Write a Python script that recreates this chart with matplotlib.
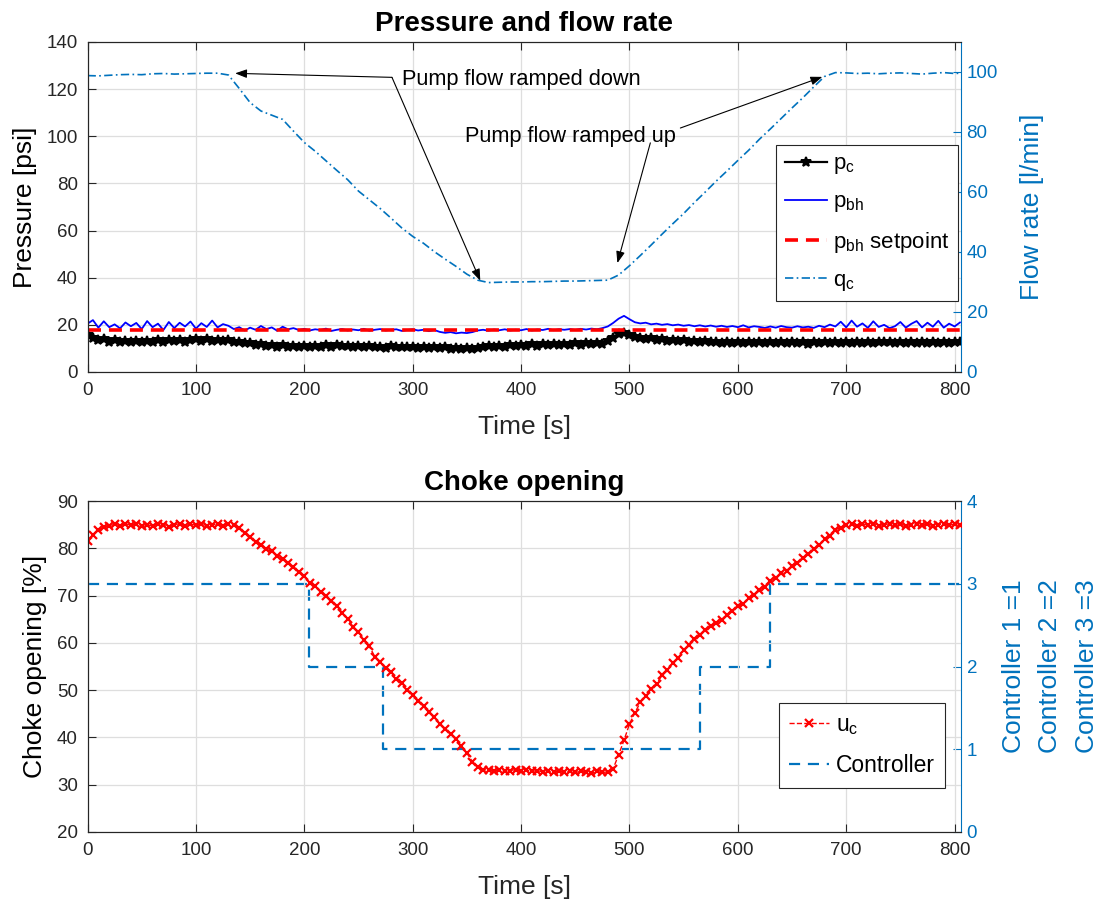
import numpy as np
import matplotlib
matplotlib.use('Agg')
import matplotlib.pyplot as plt

plt.rcParams['font.family'] = ['Liberation Sans', 'DejaVu Sans']
plt.rcParams['mathtext.fontset'] = 'custom'
plt.rcParams['mathtext.rm'] = 'Liberation Sans'
plt.rcParams['mathtext.it'] = 'Liberation Sans:italic'

# ---------------- data ----------------
time_s = np.arange(0, 806, 5)          # 5 s sampling grid, 0..805 s

p_c = [15.6, 14.4, 13.6, 13.9, 12.8, 13.4, 12.6, 13.3, 12.7, 13.1,
       12.5, 13.2, 12.8, 13.5, 12.9, 13.6, 13.1, 13.7, 12.9, 13.4,
       13.8, 13.2, 14.0, 13.3, 13.7, 13.0, 13.4, 12.5, 12.9, 12.1,
       12.3, 11.6, 11.9, 11.2, 11.5, 10.8, 11.3, 10.7, 11.1, 10.6,
       11.0, 10.5, 11.2, 10.7, 11.3, 10.8, 11.4, 10.9, 11.2, 10.6,
       11.0, 10.5, 10.9, 10.4, 10.8, 10.3, 10.9, 10.5, 10.8, 10.4,
       10.7, 10.2, 10.6, 10.1, 10.5, 10.0, 10.4, 9.8, 10.2, 9.7,
       10.0, 9.6, 10.1, 10.4, 10.9, 10.6, 11.2, 10.8, 11.4, 11.0,
       11.5, 11.1, 11.7, 11.2, 11.8, 11.3, 11.9, 11.4, 12.0, 11.5,
       12.1, 11.6, 12.2, 11.8, 12.3, 11.9, 13.2, 14.6, 16.0, 16.6,
       15.6, 14.8, 14.5, 14.0, 14.2, 13.6, 13.9, 13.3, 13.6, 13.0,
       13.4, 12.8, 13.2, 12.6, 13.1, 12.5, 12.9, 12.3, 12.8, 12.2,
       12.7, 12.2, 12.9, 12.3, 12.8, 12.1, 12.7, 12.3, 12.9, 12.2,
       12.8, 12.3, 12.6, 12.0, 12.7, 12.2, 12.9, 12.4, 12.8, 12.3,
       12.9, 12.4, 12.8, 12.2, 12.7, 12.3, 12.9, 12.5, 12.8, 12.2,
       12.7, 12.3, 12.9, 12.4, 12.8, 12.2, 12.7, 12.4, 12.9, 12.3,
       12.8, 12.5]

p_bh = [20.5, 22.0, 18.8, 21.5, 19.0, 20.2, 18.5, 21.0, 19.4, 20.8,
        18.2, 21.6, 19.0, 20.5, 17.8, 21.2, 18.6, 20.9, 19.3, 21.4,
        18.4, 20.7, 19.1, 21.8, 18.9, 20.3, 19.6, 18.2, 19.0, 17.6,
        18.8, 17.9, 19.5, 18.2, 18.9, 17.5, 19.2, 18.1, 18.6, 17.8,
        18.3, 17.6, 18.1, 17.8, 18.4, 17.4, 17.9, 18.2, 17.6, 18.0,
        17.7, 18.3, 17.5, 17.9, 18.2, 17.6, 17.9, 18.1, 17.4, 17.8,
        18.1, 17.6, 17.9, 17.3, 17.8, 17.0, 16.6, 16.9, 16.4, 16.7,
        16.5, 16.9, 17.6, 17.9, 17.5, 18.0, 17.7, 18.1, 17.6, 17.9,
        17.7, 18.2, 17.6, 18.0, 17.8, 18.3, 17.7, 18.1, 17.9, 18.2,
        17.8, 18.3, 18.0, 18.4, 18.1, 18.6, 19.3, 20.8, 22.6, 23.8,
        22.4, 21.1, 20.6, 20.9, 20.2, 20.5, 20.0, 20.3, 19.8, 20.1,
        19.6, 19.9, 19.4, 19.8, 19.3, 19.7, 19.2, 19.6, 19.1, 19.5,
        19.0, 19.8, 18.9, 19.4, 19.1, 18.7, 19.3, 18.8, 19.5, 19.0,
        18.8, 19.4, 18.9, 19.2, 18.7, 19.6, 19.0, 20.1, 19.3, 21.3,
        18.9, 21.8, 19.2, 20.6, 18.7, 21.5, 19.1, 20.0, 18.6, 19.4,
        21.2, 18.8, 20.4, 21.6, 18.9, 20.9, 19.2, 21.7, 18.8, 20.5,
        19.3, 21.0]

p_bh_setpoint = 18.0

time_q = np.arange(0, 811, 10)          # 10 s sampling grid, 0..810 s
q_c = [98.8, 98.7, 98.9, 99.1, 99.2, 99.1, 99.4, 99.5, 99.3, 99.4,
       99.5, 99.6, 99.6, 99.0, 94.5, 89.8, 87.0, 85.6, 84.2, 80.3,
       76.5, 73.6, 70.4, 67.2, 64.1, 60.3, 57.4, 54.5, 51.3, 48.0,
       45.2, 42.9, 40.1, 37.6, 35.2, 32.6, 30.6, 29.8, 29.9, 30.0,
       30.0, 30.1, 30.1, 30.2, 30.3, 30.3, 30.4, 30.5, 30.6, 32.3,
       35.4, 38.8, 42.3, 45.9, 49.4, 52.8, 56.5, 60.0, 63.6, 67.0,
       70.5, 73.9, 77.6, 81.0, 84.5, 88.0, 91.4, 95.0, 98.5, 99.8,
       99.7, 99.5, 99.6, 99.4, 99.6, 99.7, 99.5, 99.3, 99.6, 99.8,
       99.5, 99.7]

u_c = [81.5, 82.9, 83.8, 84.5, 84.7, 85.1, 84.8, 85.2, 84.9, 85.1,
       84.8, 85.0, 84.7, 85.2, 84.9, 84.6, 85.0, 85.2, 84.8, 85.1,
       84.9, 85.2, 84.8, 85.0, 85.1, 84.8, 85.2, 84.9, 84.3, 83.2,
       82.4, 81.4, 80.7, 79.8, 79.4, 78.4, 77.7, 76.8, 76.1, 74.9,
       74.2, 72.7, 72.0, 70.7, 70.0, 68.9, 67.8, 66.4, 65.1, 63.4,
       62.3, 60.7, 59.3, 57.1, 55.9, 54.7, 53.8, 52.4, 51.5, 50.1,
       49.0, 47.7, 46.7, 45.3, 44.3, 42.9, 41.8, 40.7, 39.7, 38.1,
       36.7, 34.9, 33.8, 33.1, 33.2, 32.9, 33.1, 32.8, 33.0, 33.2,
       32.9, 33.1, 32.8, 33.0, 32.7, 32.9, 32.6, 32.9, 32.7, 32.8,
       32.6, 32.8, 32.7, 32.5, 32.8, 32.6, 32.7, 33.4, 36.3, 39.4,
       42.8, 45.2, 47.4, 48.7, 50.3, 51.4, 53.1, 54.2, 55.7, 56.9,
       58.4, 59.5, 60.8, 61.7, 62.8, 63.6, 64.3, 64.9, 66.0, 66.8,
       67.8, 68.3, 69.4, 70.1, 71.1, 71.9, 73.0, 73.7, 74.7, 75.3,
       76.2, 76.8, 77.9, 78.7, 79.8, 80.6, 81.9, 82.7, 83.9, 84.4,
       84.9, 85.1, 84.8, 85.2, 84.9, 85.1, 84.8, 85.0, 85.2, 84.9,
       85.1, 84.8, 85.0, 85.2, 84.9, 85.1, 84.8, 85.0, 85.2, 84.9,
       85.1, 84.9]

controller_t = [0, 204, 273, 565, 630, 806]
controller_v = [3, 2, 1, 2, 3, 3]

# annotation anchor points (time, pressure)
down_tail = (280.9, 125.0)
down_heads = [(136.2, 126.7), (362.4, 38.7)]
up_tails = [(519.3, 97.2), (547.0, 103.5)]
up_heads = [(488.9, 46.2), (678.0, 125.2)]

# ---------------- style ----------------
BLUE = '#0072BD'
DARK = '#262626'
GRID = '#dedede'

fig = plt.figure(figsize=(11.01, 9.07), dpi=100)


def style_axes(ax1, ax2, ylim_l, yticks_l, ylim_r, yticks_r):
    ax1.set_xlim(0, 806)
    ax1.set_xticks(range(0, 801, 100))
    ax1.set_ylim(*ylim_l)
    ax1.set_yticks(yticks_l)
    ax2.set_ylim(*ylim_r)
    ax2.set_yticks(yticks_r)
    ax1.grid(True, color=GRID, linewidth=0.9)
    ax1.set_axisbelow(True)
    ax1.tick_params(direction='in', length=6, width=0.8, top=True, right=False,
                    labelsize=13.5, colors=DARK, pad=7)
    ax2.tick_params(axis='y', direction='in', length=6, width=0.8,
                    labelsize=13.5, colors=BLUE, pad=4)
    for ax in (ax1, ax2):
        for s in ('left', 'top', 'bottom'):
            ax.spines[s].set_color(DARK)
            ax.spines[s].set_linewidth(0.8)
        ax.spines['right'].set_color(BLUE)
        ax.spines['right'].set_linewidth(0.8)
    ax1.spines['right'].set_visible(False)


# ---------------- top plot ----------------
axA = fig.add_axes([0.0795, 0.5899, 0.7934, 0.3638])
axA2 = axA.twinx()
style_axes(axA, axA2, (0, 140), range(0, 141, 20), (0, 110), range(0, 101, 20))

l1, = axA.plot(time_s, p_c, '-', color='k', marker='*', markersize=7,
               markeredgewidth=1.4, linewidth=1.6, label=r'$\mathregular{p_c}$')
l2, = axA.plot(time_s, p_bh, '-', color='b', linewidth=1.3,
               label=r'$\mathregular{p_{bh}}$')
l3, = axA.plot([0, 806], [p_bh_setpoint, p_bh_setpoint], '--', color='r',
               linewidth=2.6, dashes=(3.6, 2.2), label=r'$\mathregular{p_{bh}}$ setpoint')
l4, = axA2.plot(time_q, q_c, color=BLUE, linewidth=1.2, dashes=(5, 2, 1, 2),
                label=r'$\mathregular{q_c}$')

axA.set_title('Pressure and flow rate', fontsize=20, fontweight='bold', pad=8, color='k')
axA.set_xlabel('Time [s]', fontsize=19, color=DARK, labelpad=12)
axA.set_ylabel('Pressure [psi]', fontsize=19, color='k', labelpad=7)
axA2.set_ylabel('Flow rate [l/min]', fontsize=19, color=BLUE, labelpad=16)

arrow = dict(arrowstyle='-|>,head_length=0.7,head_width=0.26', color='k',
             lw=0.8, shrinkA=0, shrinkB=0)
for h in down_heads:
    axA.annotate('', xy=h, xytext=down_tail, arrowprops=arrow, zorder=5)
for tl, h in zip(up_tails, up_heads):
    axA.annotate('', xy=h, xytext=tl, arrowprops=arrow, zorder=5)
axA.text(290.4, 123.9, 'Pump flow ramped down', fontsize=15.7, va='center', ha='left', zorder=6)
axA.text(348.5, 99.7, 'Pump flow ramped up', fontsize=15.7, va='center', ha='left', zorder=6)

legA = axA2.legend(handles=[l1, l2, l3, l4], loc='upper right',
                   bbox_to_anchor=(0.997, 0.688), borderaxespad=0, fontsize=16,
                   frameon=True, fancybox=False, edgecolor=DARK, framealpha=1,
                   handlelength=1.9, labelspacing=0.68, borderpad=0.38,
                   handletextpad=0.3)
legA.get_frame().set_linewidth(0.8)

# ---------------- bottom plot ----------------
axB = fig.add_axes([0.0795, 0.0827, 0.7934, 0.3649])
axB2 = axB.twinx()
style_axes(axB, axB2, (20, 90), range(20, 91, 10), (0, 4), range(0, 5))
axB.set_zorder(axB2.get_zorder() + 1)
axB.patch.set_visible(False)

c1, = axB2.plot(controller_t, controller_v, '--', color=BLUE, linewidth=1.6,
                dashes=(5, 3.5), drawstyle='steps-post', label='Controller')
u1, = axB.plot(time_s, u_c, '--', color='r', marker='x', markersize=5.5,
               markeredgewidth=1.6, linewidth=1.0, label=r'$\mathregular{u_c}$')

axB.set_title('Choke opening', fontsize=20, fontweight='bold', pad=8, color='k')
axB.set_xlabel('Time [s]', fontsize=19, color=DARK, labelpad=12)
axB.set_ylabel('Choke opening [%]', fontsize=19, color='k', labelpad=7)
axB2.set_ylabel('Controller 1 =1\nController 2 =2\nController 3 =3', fontsize=19,
                color=BLUE, labelpad=18, linespacing=1.65)

legB = axB.legend(handles=[u1, c1], loc='upper right', bbox_to_anchor=(0.982, 0.39),
                  borderaxespad=0, fontsize=16.5, frameon=True, fancybox=False,
                  edgecolor=DARK, framealpha=1, handlelength=1.75, labelspacing=0.75,
                  borderpad=0.45, handletextpad=0.3)
legB.get_frame().set_linewidth(0.8)

fig.savefig('out.png', dpi=100)
